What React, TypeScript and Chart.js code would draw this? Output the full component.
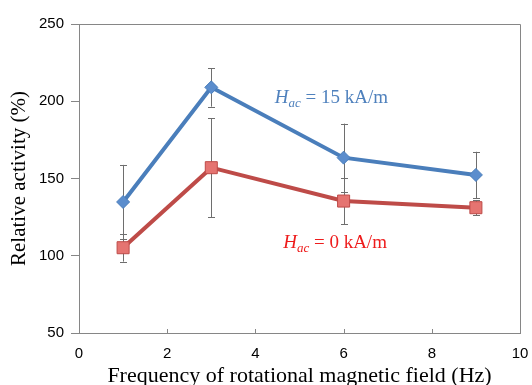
import React, { useEffect, useRef } from "react";
import { Chart, registerables } from "chart.js";

Chart.register(...registerables);

const frequencies = [1, 3, 6, 9];
const activity15 = [134.8, 209, 163.5, 152.3];
const error15 = [24, 12.5, 22, 15];
const activity0 = [105.2, 157, 135.4, 131.1];
const error0 = [9, 32, 15, 5];
const xTicks = [0, 2, 4, 6, 8, 10];
const yTicks = [50, 100, 150, 200, 250];

const label15 = { sub: "ac", rest: " = 15 kA/m", x: 4.44, y: 198.9, color: "#4F81BD" };
const label0 = { sub: "ac", rest: " = 0 kA/m", x: 4.63, y: 105, color: "#EE1C1C" };

const extrasPlugin = {
  id: "extras",
  beforeDatasetsDraw(chart: any) {
    const { ctx, chartArea, scales } = chart;
    const xs = scales.x;
    const ys = scales.y;
    ctx.save();
    ctx.strokeStyle = "#868686";
    ctx.lineWidth = 1;
    ctx.beginPath();
    ctx.moveTo(chartArea.left, chartArea.top + 0.5);
    ctx.lineTo(chartArea.right + 0.5, chartArea.top + 0.5);
    ctx.lineTo(chartArea.right + 0.5, chartArea.bottom);
    ctx.stroke();
    ctx.beginPath();
    xTicks.forEach((t) => {
      const px = Math.round(xs.getPixelForValue(t)) + 0.5;
      ctx.moveTo(px, chartArea.bottom);
      ctx.lineTo(px, chartArea.bottom - 4);
    });
    ctx.stroke();
    ctx.strokeStyle = "#6e6e6e";
    ctx.lineWidth = 1;
    const drawErr = (vals: number[], errs: number[]) => {
      vals.forEach((v, i) => {
        const px = Math.round(xs.getPixelForValue(frequencies[i])) + 0.5;
        const top = ys.getPixelForValue(v + errs[i]);
        const bot = ys.getPixelForValue(v - errs[i]);
        ctx.beginPath();
        ctx.moveTo(px, top);
        ctx.lineTo(px, bot);
        ctx.moveTo(px - 3.5, Math.round(top) + 0.5);
        ctx.lineTo(px + 3.5, Math.round(top) + 0.5);
        ctx.moveTo(px - 3.5, Math.round(bot) + 0.5);
        ctx.lineTo(px + 3.5, Math.round(bot) + 0.5);
        ctx.stroke();
      });
    };
    drawErr(activity15, error15);
    drawErr(activity0, error0);
    ctx.restore();
  },
  afterDraw(chart: any) {
    const { ctx, scales } = chart;
    const drawLabel = (l: any) => {
      let px = scales.x.getPixelForValue(l.x);
      const py = scales.y.getPixelForValue(l.y);
      ctx.save();
      ctx.fillStyle = l.color;
      ctx.textBaseline = "alphabetic";
      ctx.textAlign = "left";
      ctx.font = "italic 19px 'Liberation Serif'";
      ctx.fillText("H", px, py);
      px += ctx.measureText("H").width;
      ctx.font = "italic 13px 'Liberation Serif'";
      ctx.fillText(l.sub, px, py + 4);
      px += ctx.measureText(l.sub).width;
      ctx.font = "19px 'Liberation Serif'";
      ctx.fillText(l.rest, px, py);
      ctx.restore();
    };
    drawLabel(label15);
    drawLabel(label0);
  },
};

export default function App() {
  const ref = useRef<HTMLCanvasElement | null>(null);
  useEffect(() => {
    document.body.style.margin = "0";
    const canvas = ref.current;
    if (!canvas) return;
    const chart = new Chart(canvas, {
      type: "line",
      data: {
        datasets: [
          {
            label: "Hac = 15 kA/m",
            data: frequencies.map((f, i) => ({ x: f, y: activity15[i] })),
            borderColor: "#4A7EBB",
            borderWidth: 4,
            backgroundColor: "#5B8DCD",
            pointStyle: "rectRot",
            pointRadius: 6.5,
            pointBorderColor: "#4A7EBB",
            pointBorderWidth: 1,
            pointBackgroundColor: "#5B8DCD",
            fill: false,
            tension: 0,
          },
          {
            label: "Hac = 0 kA/m",
            data: frequencies.map((f, i) => ({ x: f, y: activity0[i] })),
            borderColor: "#BE4B48",
            borderWidth: 4,
            backgroundColor: "#E57471",
            pointStyle: "rect",
            pointRadius: 8.5,
            pointBorderColor: "#BE4B48",
            pointBorderWidth: 1,
            pointBackgroundColor: "#E57471",
            fill: false,
            tension: 0,
          },
        ],
      },
      options: {
        responsive: false,
        animation: false,
        layout: { padding: { top: 24, right: 12, left: 0, bottom: 0 } },
        plugins: { legend: { display: false }, tooltip: { enabled: false } },
        scales: {
          x: {
            type: "linear",
            min: 0,
            max: 10,
            afterBuildTicks: (s: any) => {
              s.ticks = xTicks.map((v) => ({ value: v }));
            },
            afterFit: (s: any) => {
              s.height = 52;
              s.paddingLeft = 0;
              s.paddingRight = 0;
            },
            grid: { display: true, drawOnChartArea: false, drawTicks: false },
            border: { display: true, color: "#868686", width: 1 },
            ticks: {
              padding: 12,
              color: "#000",
              font: { family: "'Liberation Sans'", size: 15 },
            },
            title: {
              display: true,
              text: "Frequency of rotational magnetic field (Hz)",
              color: "#000",
              font: { family: "'Liberation Serif'", size: 22, lineHeight: 1 },
              padding: { top: 0, bottom: -2 },
            },
          },
          y: {
            type: "linear",
            min: 50,
            max: 250,
            afterBuildTicks: (s: any) => {
              s.ticks = yTicks.map((v) => ({ value: v }));
            },
            afterFit: (s: any) => {
              s.width = 79;
              s.paddingTop = 0;
              s.paddingBottom = 0;
            },
            grid: {
              display: true,
              drawOnChartArea: false,
              drawTicks: true,
              tickLength: 8,
              color: "#868686",
            },
            border: { display: true, color: "#868686", width: 1 },
            ticks: {
              padding: 7,
              color: "#000",
              font: { family: "'Liberation Sans'", size: 15 },
            },
            title: {
              display: true,
              text: "Relative activity (%)",
              color: "#000",
              font: { family: "'Liberation Serif'", size: 21, lineHeight: 1 },
              padding: { top: 9, bottom: 0 },
            },
          },
        },
      },
      plugins: [extrasPlugin],
    } as any);
    return () => chart.destroy();
  }, []);
  return (
    <div style={{ width: 532, height: 385 }}>
      <canvas ref={ref} width={532} height={385} style={{ display: "block" }} />
    </div>
  );
}
